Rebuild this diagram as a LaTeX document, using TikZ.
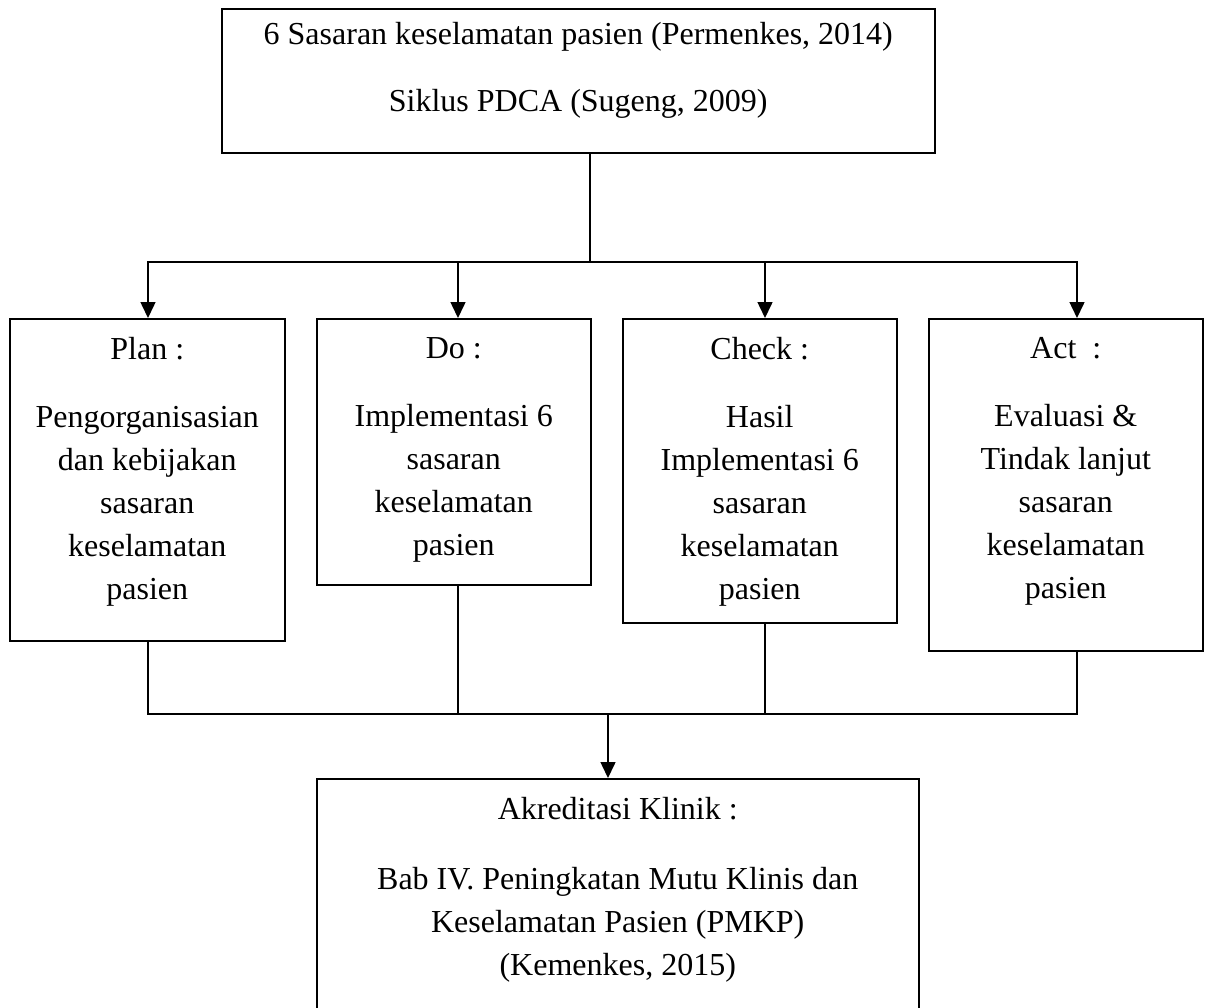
\documentclass[tikz,border=0pt]{standalone}
\usepackage{fontspec}
\setmainfont{Liberation Serif}
\usetikzlibrary{arrows.meta}

\tikzset{
  box/.style={draw, line width=1.5pt, inner sep=0pt, anchor=north west},
  txt/.style={align=center, inner sep=0pt, anchor=north},
  line/.style={line width=1.5pt, line cap=rect},
  arr/.style={line width=1.5pt, -{Triangle[width=15pt,length=16pt]}}
}

\begin{document}
\begin{tikzpicture}[x=1pt, y=-1pt, font=\fontsize{32}{43}\selectfont]
          \useasboundingbox (0,0) rectangle (1206,1007);
          % boxes
          \node[box, minimum width=713pt, minimum height=144pt] (top) at (221,8) {};
          \node[box, minimum width=275pt, minimum height=322pt] (plan) at (9,318) {};
          \node[box, minimum width=274pt, minimum height=266pt] (do) at (316,318) {};
          \node[box, minimum width=274pt, minimum height=304pt] (check) at (622,318) {};
          \node[box, minimum width=274pt, minimum height=332pt] (act) at (928,318) {};
          \node[box, minimum width=602pt, minimum height=260pt] (akr) at (316,778) {};
          % texts
          \node[txt] (topTxt) at ([yshift=-14pt]top.north) {6 Sasaran keselamatan pasien (Permenkes, 2014)\\[24pt]Siklus PDCA (Sugeng, 2009)};
          \node[txt] (planTxt) at ([yshift=-19pt]plan.north) {Plan :\\[25pt]Pengorganisasian\\dan kebijakan\\sasaran\\keselamatan\\pasien};
          \node[txt] (doTxt) at ([yshift=-19pt]do.north) {Do :\\[25pt]Implementasi 6\\sasaran\\keselamatan\\pasien};
          \node[txt] (checkTxt) at ([yshift=-19pt]check.north) {Check :\\[25pt]Hasil\\Implementasi 6\\sasaran\\keselamatan\\pasien};
          \node[txt] (actTxt) at ([yshift=-19pt]act.north) {Act\ \ :\\[25pt]Evaluasi \&\\Tindak lanjut\\sasaran\\keselamatan\\pasien};
          \node[txt] (akrTxt) at ([yshift=-19pt]akr.north) {Akreditasi Klinik :\\[27pt]Bab IV. Peningkatan Mutu Klinis dan\\Keselamatan Pasien (PMKP)\\(Kemenkes, 2015)};
          % connectors
          \coordinate (split) at (590,262);
          \coordinate (jPlan) at (148,262);   % Plan
          \coordinate (jDo) at (458,262);     % Do
          \coordinate (jCheck) at (765,262);  % Check
          \coordinate (jAct) at (1077,262);   % Act
          \coordinate (merge) at (608,714);
          \draw[line] (top.south -| split) -- (split);
          \draw[line] (jPlan) -- (jAct);
          \foreach \j/\b in {jPlan/plan, jDo/do, jCheck/check, jAct/act}
            {\draw[arr] (\j) -- (\j |- \b.north);
             \draw[line] (\j |- \b.south) -- (\j |- merge);}
          \draw[line] (jPlan |- merge) -- (jAct |- merge);
          \draw[arr] (merge) -- (merge |- akr.north);
\end{tikzpicture}
\end{document}
